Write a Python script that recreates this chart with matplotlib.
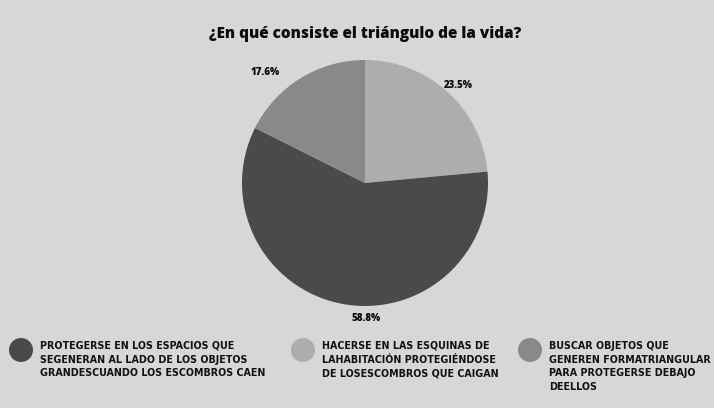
import matplotlib

matplotlib.use("Agg")
import matplotlib.pyplot as plt
from matplotlib.patches import Circle

TITLE = "¿En qué consiste el triángulo de la vida?"
CATEGORIES = [
    "HACERSE EN LAS ESQUINAS DE\nLAHABITACIÓN PROTEGIÉNDOSE\nDE LOSESCOMBROS QUE CAIGAN",
    "PROTEGERSE EN LOS ESPACIOS QUE\nSEGENERAN AL LADO DE LOS OBJETOS\nGRANDESCUANDO LOS ESCOMBROS CAEN",
    "BUSCAR OBJETOS QUE\nGENEREN FORMATRIANGULAR\nPARA PROTEGERSE DEBAJO\nDEELLOS",
]
SHARES = [23.5, 58.8, 17.6]
COLORS = ["#adadad", "#4a4a4a", "#898989"]
LEGEND_ORDER = [1, 0, 2]  # legend reads left to right in this order

BG = "#d7d7d7"
W, H = 714, 408

fig = plt.figure(figsize=(W / 100, H / 100), dpi=100, facecolor=BG)

# overlay in pixel coordinates for title and legend
ov = fig.add_axes([0, 0, 1, 1])
ov.set_xlim(0, W)
ov.set_ylim(H, 0)
ov.set_aspect("equal")
ov.axis("off")

ov.text(365, 34, TITLE, ha="center", va="center", fontsize=11,
        fontweight="heavy", family=["Open Sans", "DejaVu Sans"], color="#0a0a0a")

legend_x = [21, 303, 530]
for x, idx in zip(legend_x, LEGEND_ORDER):
    ov.add_patch(Circle((x, 350), 12, color=COLORS[idx], lw=0))
    ov.text(x + 19, 341, CATEGORIES[idx], ha="left", va="top", fontsize=7.7,
            fontweight="bold", fontstretch="condensed",
            family=["DejaVu Sans"], color="#111111", linespacing=1.45)

# pie
cx, cy, r = 365, 183, 123
ax = fig.add_axes([(cx - r) / W, (H - cy - r) / H, 2 * r / W, 2 * r / H])
ax.set_aspect("equal")
wedges, _, autotexts = ax.pie(
    SHARES, colors=COLORS, startangle=90, counterclock=False,
    autopct=lambda p: f"{p:.1f}%", pctdistance=1.12,
    wedgeprops={"linewidth": 0},
    textprops={"fontsize": 7, "fontweight": "heavy", "color": "#0a0a0a",
               "family": ["Open Sans", "DejaVu Sans"]},
)
label_xy = [(0.76, 0.79), (0.01, -1.10), (-0.81, 0.90)]
for t, s, xy in zip(autotexts, SHARES, label_xy):
    t.set_text(f"{s:.1f}%")
    t.set_position(xy)
ax.set_xlim(-1, 1)
ax.set_ylim(-1, 1)

fig.savefig("out.png", dpi=100, facecolor=BG)
